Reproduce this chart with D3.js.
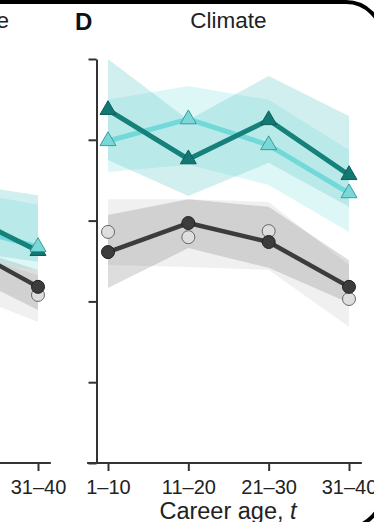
<!DOCTYPE html>
<html>
<head>
<meta charset="utf-8">
<script src="https://cdn.jsdelivr.net/npm/d3@7"></script>
<style>
  html, body { margin: 0; padding: 0; background: #fff; }
  svg { display: block; font-family: "Liberation Sans", Arial, Helvetica, sans-serif; }
</style>
</head>
<body>
<svg id="chart" width="374" height="522"></svg>
<script>
// ---- data -------------------------------------------------------------
const ageGroups = ["1–10", "11–20", "21–30", "31–40"];
const yTicks = [0, 0.2, 0.4, 0.6, 0.8, 1.0];
const panelTitles = ["e", "Climate"];
const panelLetter = "D";

// Climate panel: four series, each with a mean and an uncertainty band
const climateDarkTeal    = [0.874, 0.752, 0.849, 0.713];
const climateDarkTealLo  = [0.750, 0.661, 0.743, 0.634];
const climateDarkTealHi  = [1.000, 0.849, 0.958, 0.859];

const climateLightTeal   = [0.797, 0.851, 0.787, 0.668];
const climateLightTealLo = [0.720, 0.738, 0.688, 0.572];
const climateLightTealHi = [0.899, 0.933, 0.899, 0.775];

const climateDarkGrey    = [0.522, 0.594, 0.547, 0.436];
const climateDarkGreyLo  = [0.433, 0.532, 0.483, 0.396];
const climateDarkGreyHi  = [0.614, 0.653, 0.634, 0.502];

const climateLightGrey   = [0.572, 0.559, 0.574, 0.406];
const climateLightGreyLo = [0.490, 0.485, 0.478, 0.337];
const climateLightGreyHi = [0.653, 0.653, 0.646, 0.490];

// Neighbouring panel (only its last two age groups fall inside the frame)
const prevGroups          = ["21–30", "31–40"];
const prevShownTicks      = ["31–40"];
const prevDarkTeal        = [0.624, 0.525];
const prevDarkTealLo      = [0.527, 0.498];
const prevDarkTealHi      = [0.693, 0.663];
const prevLightTeal       = [0.589, 0.535];
const prevLightTealLo     = [0.502, 0.478];
const prevLightTealHi     = [0.676, 0.639];
const prevDarkGrey        = [0.545, 0.436];
const prevDarkGreyLo      = [0.478, 0.379];
const prevDarkGreyHi      = [0.542, 0.478];
const prevLightGrey       = [0.478, 0.416];
const prevLightGreyLo     = [0.428, 0.349];
const prevLightGreyHi     = [0.527, 0.465];

// ---- layout -----------------------------------------------------------
const svg = d3.select("#chart");
const axisColor = "#333";
const y = d3.scaleLinear().domain([0, 1]).range([463, 59]);
const step = 80.33;

const xD = d3.scalePoint().domain(ageGroups).range([108, 349]);
const xC = d3.scalePoint().domain(ageGroups).range([38 - 3 * step, 38]);

const styles = {
  darkTeal:  { line: "#16807a", width: 5,   band: "#5cc6c6", bandOp: 0.28,
               fill: "#137873", stroke: "#0e5e5a", shape: "tri" },
  lightTeal: { line: "#72d9d9", width: 5,   band: "#8ee6e6", bandOp: 0.30,
               fill: "#7ad8d8", stroke: "#3c9c9c", shape: "tri" },
  darkGrey:  { line: "#3c3c3c", width: 4.5, band: "#555",    bandOp: 0.20,
               fill: "#3c3c3c", stroke: "#222",    shape: "circ" },
  lightGrey: { line: null,      width: 0,   band: "#888",    bandOp: 0.13,
               fill: "#dedede", stroke: "#666",    shape: "circ" }
};

function drawPanel(g, x, groups, series) {
  // bands
  const area = d3.area().x(d => x(d.k)).y0(d => y(d.lo)).y1(d => y(d.hi));
  for (const s of series) {
    const st = styles[s.style];
    const rows = groups.map((k, i) => ({ k, lo: s.lo[i], hi: s.hi[i] }));
    g.append("path").datum(rows).attr("d", area)
      .attr("fill", st.band).attr("fill-opacity", st.bandOp);
  }
  // lines
  const line = d3.line().x(d => x(d.k)).y(d => y(d.v));
  for (const s of series) {
    const st = styles[s.style];
    if (!st.line) continue;
    const rows = groups.map((k, i) => ({ k, v: s.mean[i] }));
    g.append("path").datum(rows).attr("d", line)
      .attr("fill", "none").attr("stroke", st.line)
      .attr("stroke-width", st.width).attr("stroke-linejoin", "round");
  }
  // markers
  const markerOrder = ["lightGrey", "darkGrey", "darkTeal", "lightTeal"];
  for (const key of markerOrder) {
    const s = series.find(d => d.style === key);
    if (!s) continue;
    const st = styles[key];
    const rows = groups.map((k, i) => ({ k, v: s.mean[i] }));
    if (st.shape === "circ") {
      g.selectAll(null).data(rows).join("circle")
        .attr("cx", d => x(d.k)).attr("cy", d => y(d.v)).attr("r", 6.5)
        .attr("fill", st.fill).attr("stroke", st.stroke).attr("stroke-width", 1);
    } else {
      const tri = d3.symbol().type(d3.symbolTriangle).size(110);
      g.selectAll(null).data(rows).join("path")
        .attr("d", tri)
        .attr("transform", d => `translate(${x(d.k)},${y(d.v)})`)
        .attr("fill", st.fill).attr("stroke", st.stroke).attr("stroke-width", 1);
    }
  }
}

function drawXAxis(x, shown) {
  const ax = svg.append("g").attr("transform", `translate(0,${y(0)})`)
    .call(d3.axisBottom(x).tickValues(shown).tickSize(8).tickPadding(9).tickSizeOuter(0));
  ax.select(".domain").remove();
  ax.selectAll(".tick line").attr("stroke", axisColor).attr("stroke-width", 2);
  ax.selectAll(".tick text").attr("fill", "#222").style("font-size", "20px")
    .style("font-family", '"Liberation Sans", Arial, sans-serif');
  const dom = x.domain();
  ax.append("line")
    .attr("x1", x(dom[0]) - 0.26 * step).attr("x2", x(dom[dom.length - 1]) + 0.16 * step)
    .attr("stroke", axisColor).attr("stroke-width", 2);
}

// ---- neighbouring panel, cut by the frame ------------------------------
const gC = svg.append("g");
drawPanel(gC, xC, prevGroups, [
  { style: "lightGrey", mean: prevLightGrey, lo: prevLightGreyLo, hi: prevLightGreyHi },
  { style: "darkGrey",  mean: prevDarkGrey,  lo: prevDarkGreyLo,  hi: prevDarkGreyHi },
  { style: "lightTeal", mean: prevLightTeal, lo: prevLightTealLo, hi: prevLightTealHi },
  { style: "darkTeal",  mean: prevDarkTeal,  lo: prevDarkTealLo,  hi: prevDarkTealHi }
]);
drawXAxis(xC, prevShownTicks);
svg.append("text").attr("x", 9).attr("y", 28).attr("text-anchor", "end")
  .style("font-size", "22.5px").attr("fill", "#222").text(panelTitles[0]);

// ---- climate panel -----------------------------------------------------
const gD = svg.append("g");
drawPanel(gD, xD, ageGroups, [
  { style: "lightGrey", mean: climateLightGrey, lo: climateLightGreyLo, hi: climateLightGreyHi },
  { style: "darkGrey",  mean: climateDarkGrey,  lo: climateDarkGreyLo,  hi: climateDarkGreyHi },
  { style: "lightTeal", mean: climateLightTeal, lo: climateLightTealLo, hi: climateLightTealHi },
  { style: "darkTeal",  mean: climateDarkTeal,  lo: climateDarkTealLo,  hi: climateDarkTealHi }
]);
drawXAxis(xD, ageGroups);

const yAx = svg.append("g").attr("transform", "translate(96.5,0)")
  .call(d3.axisLeft(y).tickValues(yTicks).tickSize(8).tickSizeOuter(0).tickFormat(""));
yAx.select(".domain").attr("stroke", axisColor).attr("stroke-width", 2);
yAx.selectAll(".tick line").attr("stroke", axisColor).attr("stroke-width", 2);

svg.append("text").attr("x", 228.5).attr("y", 28).attr("text-anchor", "middle")
  .style("font-size", "22.5px").attr("fill", "#222").text(panelTitles[1]);
svg.append("text").attr("x", 75).attr("y", 30)
  .style("font-size", "24px").style("font-weight", "bold").attr("fill", "#111").text(panelLetter);

const xl = svg.append("text").attr("x", 228).attr("y", 519).attr("text-anchor", "middle")
  .style("font-size", "23.5px").attr("fill", "#222");
xl.append("tspan").text("Career age, ");
xl.append("tspan").style("font-style", "italic").text("t");

// ---- rounded frame -----------------------------------------------------
svg.append("path")
  .attr("d", "M -10 2 H 346 A 36 36 0 0 1 382 38 V 492 A 36 36 0 0 1 346 528 H -10")
  .attr("fill", "none").attr("stroke", "#000").attr("stroke-width", 4);
</script>
</body>
</html>
